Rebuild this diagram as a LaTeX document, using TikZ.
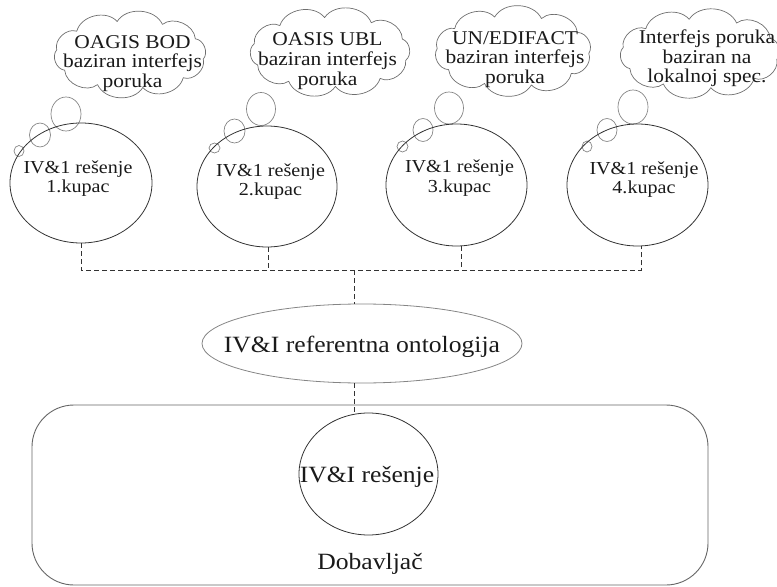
\documentclass[tikz,border=0pt]{standalone}
\usepackage{fontspec}
\setmainfont{Liberation Serif}[FakeStretch=1.1]
\usetikzlibrary{shapes.geometric}

\definecolor{inkline}{HTML}{333333}
\definecolor{softline}{HTML}{858585}
\definecolor{cloudline}{HTML}{6E6E6E}
\definecolor{boxline}{HTML}{666666}
\definecolor{txt}{HTML}{1A1A1A}

\tikzset{
  client/.style={draw=inkline, line width=0.8bp, ellipse, inner sep=0pt},
  clienttext/.style={text=txt, align=center, inner sep=0pt,
    font=\fontsize{18.3bp}{19.5bp}\selectfont},
  thoughtline/.style={draw=cloudline, line width=0.7bp, line join=round},
  thoughttext/.style={text=txt, align=center, inner sep=0pt,
    font=\fontsize{19.5bp}{19.8bp}\selectfont},
  bubble/.style={draw=softline, line width=0.7bp, ellipse, inner sep=0pt},
  bigtext/.style={text=txt, inner sep=0pt, anchor=base,
    font=\fontsize{23.3bp}{26bp}\selectfont},
  link/.style={draw=inkline, line width=0.8bp, dash pattern=on 5bp off 3bp},
}

% puffy cloud: #1 centre, #2/#3 radii of the puff ring, #4 start angle
\newcommand\puffcloud[4]{%
  \draw[thoughtline, shift={(#1)}] (#4:#2 and #3)
    \foreach \k in {1,...,10}{ to[bend left=62] ({#4+\k*36}:#2 and #3) } -- cycle;
}

\begin{document}
\begin{tikzpicture}[x=1bp, y=-1bp]
\useasboundingbox (0,0) rectangle (777,587);

% supplier frame
\node[draw=boxline, line width=0.9bp, rounded corners=42bp,
  minimum width=676bp, minimum height=180bp, inner sep=0pt] (frame) at (370,495) {};
\node[bigtext] (frametext) at (370,569) {Dobavljač};

% thought clouds
\coordinate (cl1) at (130,54.5);
\coordinate (cl2) at (330,52);
\coordinate (cl3) at (513,51);
\coordinate (cl4) at (700,53.5);
\puffcloud{cl1}{74}{33.5}{8}
\puffcloud{cl2}{78}{34.5}{14}
\puffcloud{cl3}{76}{35}{4}
\puffcloud{cl4}{78}{34.5}{10}

\node[thoughttext] (cl1t) at (132.5,63.6) {OAGIS BOD\\baziran interfejs\\poruka};
\node[thoughttext] (cl2t) at (327.5,61.3) {OASIS UBL\\baziran interfejs\\poruka};
\node[thoughttext] (cl3t) at (515,59.6) {UN/EDIFACT\\baziran interfejs\\poruka};
\node[thoughttext] (cl4t) at (707,58.3) {Interfejs poruka\\baziran na\\lokalnoj spec.};

% thought bubbles
\node[bubble, minimum width=30bp, minimum height=34bp] (b1a) at (66,114) {};
\node[bubble, minimum width=21bp, minimum height=24bp] (b1b) at (40,135) {};
\node[bubble, minimum width=10bp, minimum height=11bp] (b1c) at (19,151) {};

\node[bubble, minimum width=29bp, minimum height=33bp] (b2a) at (261,109) {};
\node[bubble, minimum width=21bp, minimum height=24bp] (b2b) at (234.5,131) {};
\node[bubble, minimum width=11bp, minimum height=10bp] (b2c) at (214.5,148) {};

\node[bubble, minimum width=29bp, minimum height=32bp] (b3a) at (449,108) {};
\node[bubble, minimum width=20bp, minimum height=23bp] (b3b) at (423,130) {};
\node[bubble, minimum width=11bp, minimum height=11bp] (b3c) at (402.5,146.5) {};

\node[bubble, minimum width=30bp, minimum height=34bp] (b4a) at (633,107) {};
\node[bubble, minimum width=20bp, minimum height=23bp] (b4b) at (607,130) {};
\node[bubble, minimum width=10bp, minimum height=11bp] (b4c) at (587,146.5) {};

% customer solutions
\node[client, minimum width=142bp, minimum height=120bp] (c1) at (81,183) {};
\node[client, minimum width=140bp, minimum height=121bp] (c2) at (267,186.5) {};
\node[client, minimum width=141bp, minimum height=122bp] (c3) at (456.5,185) {};
\node[client, minimum width=141bp, minimum height=122bp] (c4) at (637.5,185) {};

\node[clienttext] (c1t) at (78,178.7) {IV\&1 rešenje\\1.kupac};
\node[clienttext] (c2t) at (270.5,181.7) {IV\&1 rešenje\\2.kupac};
\node[clienttext] (c3t) at (459.5,178.3) {IV\&1 rešenje\\3.kupac};
\node[clienttext] (c4t) at (644,179.7) {IV\&1 rešenje\\4.kupac};

% reference ontology
\node[draw=softline, line width=0.8bp, ellipse, inner sep=0pt,
  minimum width=320bp, minimum height=79bp] (onto) at (362,343.5) {};
\node[bigtext] (ontot) at (362,352) {IV\&I referentna ontologija};

% supplier solution
\node[client, minimum width=139bp, minimum height=122bp] (sol) at (368.5,474) {};
\node[bigtext] (solt) at (367,482) {IV\&I rešenje};

% dashed bus
\coordinate (bus) at (354,270);
\draw[link] (c1.south) -- (c1.south |- bus) -- (c4.-86 |- bus) -- (c4.-86);
\draw[link] (c2.-89) -- (c2.-89 |- bus);
\draw[link] (c3.-85) -- (c3.-85 |- bus);
\draw[link] (bus) -- (bus |- onto.north);
\draw[link] (bus |- onto.south) -- (bus |- sol.north);
\end{tikzpicture}
\end{document}
